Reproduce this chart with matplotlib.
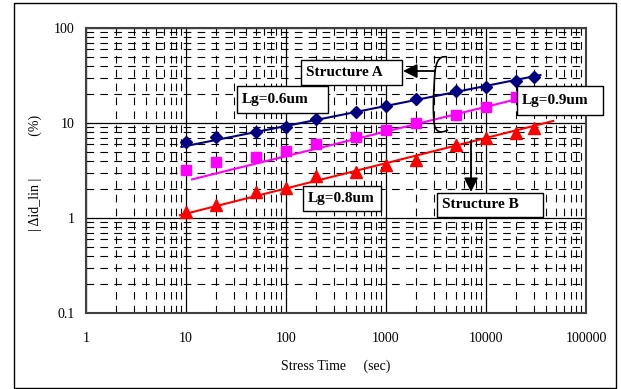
import matplotlib
matplotlib.use("Agg")
import matplotlib.pyplot as plt
import matplotlib.patches as patches
from matplotlib.path import Path
from matplotlib.ticker import LogLocator, NullFormatter

plt.rcParams['font.family'] = ['Liberation Serif', 'DejaVu Serif']
plt.rcParams['lines.scale_dashes'] = False

# stress time (sec)
stress_time = [10, 20, 50, 100, 200, 500, 1000, 2000, 5000, 10000, 20000, 30000]

# |delta id_lin| (%) per structure
lg06 = [6.3, 7.1, 8.0, 9.1, 11.0, 13.0, 15.2, 18.0, 21.5, 23.7, 28.0, 30.7]
lg09 = [3.2, 3.85, 4.4, 5.1, 6.0, 7.2, 8.4, 10.0, 12.0, 14.8, 18.9]
lg08 = [1.17, 1.38, 1.9, 2.07, 2.75, 3.05, 3.6, 4.1, 5.8, 6.9, 7.8, 8.9]

# trend lines (end points)
lg06_fit_t = [9, 35000]
lg06_fit_v = [5.6, 32]
lg09_fit_t = [11.5, 30000]
lg09_fit_v = [2.55, 19.7]
lg08_fit_t = [8.7, 47000]
lg08_fit_v = [1.07, 10.5]

x_ticks = [1, 10, 100, 1000, 10000, 100000]
x_labels = ['1', '10', '100', '1000', '10000', '100000']
y_ticks = [0.1, 1, 10, 100]
y_labels = ['0.1', '1', '10', '100']

W, H = 621, 389


def px(x, y):
    # pixel position (from top-left) to figure fraction
    return (x / W, 1 - y / H)


fig = plt.figure(figsize=(W / 100, H / 100), dpi=100)
ax = fig.add_axes([86 / W, 1 - 313 / H, 500 / W, 285 / H])

ax.set_xscale('log')
ax.set_yscale('log')
ax.set_xlim(1, 100000)
ax.set_ylim(0.1, 100)

ax.set_xticks(x_ticks)
ax.set_xticklabels(x_labels)
ax.set_yticks(y_ticks)
ax.set_yticklabels(y_labels)
ax.xaxis.set_minor_locator(LogLocator(base=10, subs=range(2, 10)))
ax.yaxis.set_minor_locator(LogLocator(base=10, subs=range(2, 10)))
ax.xaxis.set_minor_formatter(NullFormatter())
ax.yaxis.set_minor_formatter(NullFormatter())
ax.tick_params(axis='x', which='both', length=0, pad=14, labelsize=10)
ax.tick_params(axis='y', which='both', length=0, pad=8, labelsize=10)

ax.set_axisbelow(True)
ax.grid(which='major', color='black', lw=0.9, ls='-')
ax.grid(which='minor', color='black', lw=0.8, ls=(0, (5.5, 4.5)))
for s in ax.spines.values():
    s.set_color('#404040')
    s.set_linewidth(1.5)

# trend lines
ax.plot(lg06_fit_t, lg06_fit_v, color='#000080', lw=1.5, zorder=3)
ax.plot(lg09_fit_t, lg09_fit_v, color='#FF00FF', lw=1.5, zorder=3)
ax.plot(lg08_fit_t, lg08_fit_v, color='#FF0000', lw=1.5, zorder=3)

# measured points
ax.plot(stress_time, lg06, ls='none', marker='D', ms=6.5, color='#000080', zorder=4)
ax.plot(stress_time[:len(lg09)], lg09, ls='none', marker='s', ms=7.2, color='#FF00FF', zorder=4)
ax.plot(stress_time, lg08, ls='none', marker='^', ms=8, color='#FF0000', zorder=4)

ax.set_xlabel('Stress Time     (sec)', fontsize=10)
ax.xaxis.set_label_coords(0.5, -(366 - 313) / 285, transform=ax.transAxes)
ax.xaxis.label.set_va('center')
ax.set_ylabel('| \u0394id_lin |            (%)', fontsize=10)
ax.yaxis.set_label_coords(-(86 - 35) / 500, 0.49)
ax.yaxis.label.set_va('center')

# outer frame
fx0, fy0 = px(14, 388)
fx1, fy1 = px(616, 3)
fig.add_artist(patches.Rectangle((fx0, fy0), fx1 - fx0, fy1 - fy0, transform=fig.transFigure,
                                 fill=False, edgecolor='black', lw=1.0, zorder=0))

# label boxes (left, top, right, bottom in pixels)
boxes = [
    ('Structure A', 301, 60, 402, 85),
    ('Lg=0.6um', 237, 86, 328, 113),
    ('Lg=0.9um', 517, 86, 603, 115),
    ('Lg=0.8um', 303, 186, 381, 211),
    ('Structure B', 437, 193, 543, 217),
]
for text, l, t, r, b in boxes:
    x0, y0 = px(l, b)
    x1, y1 = px(r, t)
    fig.add_artist(patches.Rectangle((x0, y0), x1 - x0, y1 - y0, transform=fig.transFigure,
                                     facecolor='white', edgecolor='black', lw=1.0, zorder=5))
    fig.text((l + 5) / W, 1 - (t + b) / 2 / H, text, ha='left', va='center',
             fontsize=11, fontweight='bold', zorder=6)

# curly bracket
verts = [px(447, 57), px(438, 55), px(436, 64), px(435, 72),
         px(433, 100), px(433, 110), px(434, 122),
         px(435, 132), px(440, 134), px(448, 130)]
codes = [Path.MOVETO, Path.CURVE4, Path.CURVE4, Path.CURVE4,
         Path.CURVE4, Path.CURVE4, Path.CURVE4,
         Path.CURVE4, Path.CURVE4, Path.CURVE4]
fig.add_artist(patches.PathPatch(Path(verts, codes), transform=fig.transFigure,
                                 fill=False, edgecolor='black', lw=1.2, zorder=6))

# arrows
fig.add_artist(patches.FancyArrowPatch(px(435, 71), px(403, 71), transform=fig.transFigure,
                                       arrowstyle='-|>,head_length=0.7,head_width=0.35',
                                       mutation_scale=12, color='black', lw=1.3,
                                       shrinkA=0, shrinkB=0, zorder=6))
fig.add_artist(patches.FancyArrowPatch(px(471, 141), px(471, 192), transform=fig.transFigure,
                                       arrowstyle='-|>,head_length=0.7,head_width=0.35',
                                       mutation_scale=12, color='black', lw=1.3,
                                       shrinkA=0, shrinkB=0, zorder=6))

fig.savefig('out.png', dpi=100)
